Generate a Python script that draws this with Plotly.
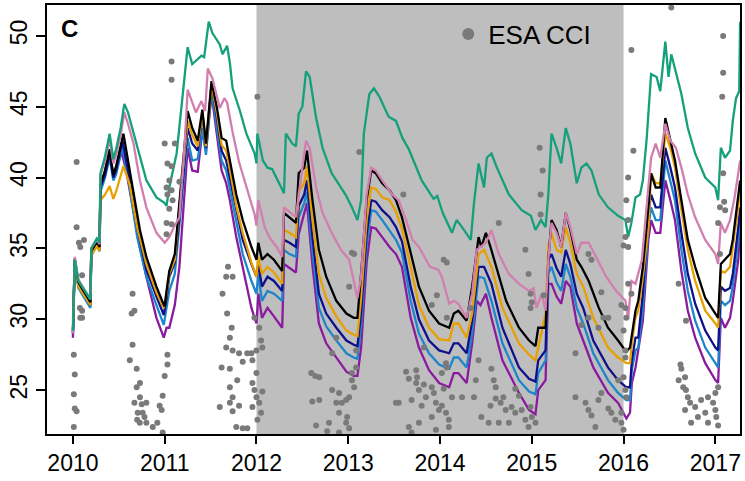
import plotly.graph_objects as go

# ---------------- data (decimal year, value) ----------------
green = [(2010.0, 29.2), (2010.02, 34.2), (2010.06, 32.7), (2010.19, 31.4), (2010.20, 35.0), (2010.26, 35.7),
         (2010.29, 35.4), (2010.30, 40.3), (2010.35, 41.5), (2010.40, 43.1), (2010.44, 41.3), (2010.47, 42.0),
         (2010.52, 43.5), (2010.56, 45.2), (2010.60, 44.6), (2010.66, 43.1), (2010.73, 41.4), (2010.80, 39.8),
         (2010.91, 38.6), (2011.0, 38.2), (2011.02, 38.0), (2011.05, 39.3), (2011.13, 41.7), (2011.20, 46.1),
         (2011.25, 49.2), (2011.30, 48.0), (2011.40, 48.6), (2011.43, 48.5), (2011.48, 51.0), (2011.52, 50.2),
         (2011.60, 49.4), (2011.63, 48.7), (2011.68, 49.3), (2011.71, 48.1), (2011.74, 46.3), (2011.82, 44.7),
         (2011.89, 43.1), (2011.98, 41.7), (2012.0, 41.0), (2012.01, 43.1), (2012.07, 41.2), (2012.12, 40.7),
         (2012.17, 40.6), (2012.30, 38.9), (2012.32, 43.1), (2012.39, 42.4), (2012.43, 42.2), (2012.46, 44.5),
         (2012.50, 45.0), (2012.54, 47.5), (2012.58, 47.1), (2012.65, 44.2), (2012.72, 42.1), (2012.82, 40.3),
         (2012.97, 38.8), (2013.04, 37.9), (2013.10, 37.0), (2013.14, 38.4), (2013.17, 43.1), (2013.23, 45.9),
         (2013.28, 46.3), (2013.34, 45.7), (2013.44, 44.3), (2013.52, 44.0), (2013.59, 42.8), (2013.66, 42.0),
         (2013.80, 39.8), (2013.93, 38.5), (2013.97, 38.7), (2014.03, 37.5), (2014.13, 36.1), (2014.18, 37.0),
         (2014.24, 36.5), (2014.335, 35.6), (2014.37, 38.2), (2014.42, 41.0), (2014.48, 39.3), (2014.51, 41.4),
         (2014.56, 41.7), (2014.62, 40.7), (2014.75, 38.8), (2014.89, 37.7), (2014.99, 37.3), (2015.04, 36.3),
         (2015.10, 37.0), (2015.15, 36.5), (2015.18, 38.8), (2015.215, 43.1), (2015.27, 42.1), (2015.32, 41.0),
         (2015.37, 43.5), (2015.42, 42.4), (2015.49, 39.6), (2015.54, 40.7), (2015.595, 41.0), (2015.65, 40.5),
         (2015.73, 38.8), (2015.83, 37.9), (2015.94, 37.3), (2016.02, 37.0), (2016.05, 35.8), (2016.085, 36.8),
         (2016.13, 38.6), (2016.18, 38.8), (2016.21, 39.8), (2016.25, 42.6), (2016.27, 44.5), (2016.30, 47.3),
         (2016.36, 47.1), (2016.40, 46.1), (2016.455, 49.6), (2016.49, 47.1), (2016.52, 48.7), (2016.57, 47.5),
         (2016.63, 45.9), (2016.70, 43.5), (2016.78, 41.7), (2016.89, 40.0), (2017.0, 39.3), (2017.03, 38.4),
         (2017.06, 42.1), (2017.105, 41.4), (2017.16, 41.9), (2017.19, 44.0), (2017.225, 45.6), (2017.26, 46.1),
         (2017.27, 51.0)]

pink = [(2010.0, 29.0), (2010.02, 34.4), (2010.06, 32.8), (2010.19, 31.4), (2010.20, 35.0), (2010.26, 35.6),
        (2010.29, 35.3), (2010.30, 40.2), (2010.35, 41.2), (2010.40, 42.7), (2010.44, 41.0), (2010.47, 41.6),
        (2010.52, 43.0), (2010.56, 44.6), (2010.60, 43.8), (2010.66, 42.4), (2010.73, 39.8), (2010.80, 37.9),
        (2010.91, 36.1), (2011.0, 35.4), (2011.05, 35.8), (2011.10, 36.5), (2011.16, 37.2), (2011.22, 42.6),
        (2011.25, 46.2), (2011.34, 44.6), (2011.40, 45.4), (2011.44, 44.7), (2011.47, 47.7), (2011.52, 47.0),
        (2011.60, 44.9), (2011.65, 45.6), (2011.68, 45.3), (2011.74, 43.2), (2011.81, 41.1), (2011.89, 39.3),
        (2011.98, 37.4), (2012.0, 36.6), (2012.02, 38.4), (2012.09, 36.5), (2012.14, 35.8), (2012.22, 35.1),
        (2012.28, 34.4), (2012.30, 37.9), (2012.36, 37.6), (2012.43, 37.2), (2012.46, 38.8), (2012.54, 42.6),
        (2012.58, 42.1), (2012.65, 39.3), (2012.72, 37.5), (2012.82, 36.1), (2012.92, 34.9), (2013.01, 34.2),
        (2013.06, 32.7), (2013.10, 31.5), (2013.14, 33.0), (2013.20, 38.8), (2013.25, 40.7), (2013.30, 40.5),
        (2013.37, 39.8), (2013.48, 38.8), (2013.55, 38.4), (2013.63, 37.0), (2013.70, 35.6), (2013.77, 35.1),
        (2013.89, 33.7), (2013.98, 33.5), (2014.02, 33.0), (2014.10, 31.1), (2014.15, 31.3), (2014.20, 31.1),
        (2014.29, 30.1), (2014.35, 31.8), (2014.40, 34.9), (2014.44, 35.1), (2014.50, 35.4), (2014.56, 36.3),
        (2014.64, 34.6), (2014.75, 33.2), (2014.86, 32.5), (2014.97, 32.0), (2015.02, 32.2), (2015.05, 30.8),
        (2015.11, 31.8), (2015.15, 30.6), (2015.18, 34.2), (2015.215, 36.8), (2015.27, 36.1), (2015.32, 35.1),
        (2015.37, 37.5), (2015.42, 36.5), (2015.49, 34.6), (2015.54, 35.4), (2015.62, 35.4), (2015.70, 34.4),
        (2015.81, 33.0), (2015.92, 32.0), (2016.02, 31.3), (2016.05, 30.0), (2016.085, 32.7), (2016.13, 32.5),
        (2016.20, 34.2), (2016.25, 37.9), (2016.30, 41.4), (2016.35, 42.4), (2016.40, 41.4), (2016.455, 43.8),
        (2016.51, 42.6), (2016.57, 42.1), (2016.63, 40.7), (2016.70, 38.8), (2016.78, 37.2), (2016.89, 35.6),
        (2017.0, 34.6), (2017.03, 33.9), (2017.06, 36.8), (2017.105, 36.1), (2017.16, 37.0), (2017.21, 38.6),
        (2017.27, 41.2)]

black = [(2010.0, 29.2), (2010.02, 34.3), (2010.06, 32.6), (2010.19, 31.2), (2010.20, 34.8), (2010.26, 35.5),
         (2010.29, 35.1), (2010.30, 39.5), (2010.35, 40.5), (2010.40, 42.0), (2010.44, 40.2), (2010.47, 40.8),
         (2010.55, 43.1), (2010.66, 39.1), (2010.73, 36.3), (2010.80, 34.4), (2010.91, 32.3), (2010.985, 31.1),
         (2011.0, 30.9), (2011.02, 32.0), (2011.05, 33.4), (2011.11, 34.6), (2011.16, 38.4), (2011.25, 44.7),
         (2011.30, 43.5), (2011.36, 42.6), (2011.41, 44.8), (2011.45, 42.4), (2011.51, 46.8), (2011.57, 44.9),
         (2011.62, 42.8), (2011.67, 42.6), (2011.71, 41.2), (2011.78, 38.8), (2011.85, 37.0), (2011.945, 35.1),
         (2012.0, 34.2), (2012.02, 35.4), (2012.06, 34.2), (2012.12, 34.6), (2012.19, 34.2), (2012.28, 33.4),
         (2012.30, 37.5), (2012.36, 37.2), (2012.43, 36.8), (2012.46, 40.3), (2012.52, 40.7), (2012.55, 41.9),
         (2012.61, 38.4), (2012.68, 34.9), (2012.76, 33.0), (2012.87, 31.3), (2012.98, 30.4), (2013.06, 30.1),
         (2013.10, 30.1), (2013.14, 33.2), (2013.20, 38.4), (2013.25, 40.5), (2013.30, 40.3), (2013.37, 39.6),
         (2013.45, 39.1), (2013.52, 38.4), (2013.585, 37.2), (2013.68, 34.7), (2013.77, 32.3), (2013.88, 30.6),
         (2013.99, 29.7), (2014.10, 29.4), (2014.15, 30.4), (2014.20, 30.6), (2014.29, 29.9), (2014.35, 32.3),
         (2014.42, 35.8), (2014.45, 35.1), (2014.50, 36.1), (2014.55, 35.1), (2014.61, 33.7), (2014.72, 31.3),
         (2014.86, 29.4), (2014.97, 28.5), (2015.04, 28.1), (2015.07, 29.4), (2015.15, 29.4), (2015.18, 34.2),
         (2015.215, 37.0), (2015.27, 36.3), (2015.32, 35.1), (2015.37, 37.5), (2015.42, 36.3), (2015.49, 34.2),
         (2015.54, 33.7), (2015.62, 32.7), (2015.73, 30.8), (2015.83, 29.4), (2015.94, 28.5), (2016.03, 27.7),
         (2016.07, 28.0), (2016.09, 29.0), (2016.13, 30.6), (2016.16, 31.3), (2016.21, 33.7), (2016.27, 37.9),
         (2016.30, 40.3), (2016.35, 39.3), (2016.40, 39.3), (2016.455, 44.2), (2016.51, 42.6), (2016.56, 41.2),
         (2016.63, 38.4), (2016.70, 35.6), (2016.78, 33.7), (2016.89, 31.5), (2017.0, 30.4), (2017.03, 30.1),
         (2017.06, 33.9), (2017.105, 34.2), (2017.16, 34.6), (2017.19, 35.6), (2017.25, 38.8), (2017.27, 39.8)]

orange = [(2010.0, 29.8), (2010.02, 34.0), (2010.06, 32.3), (2010.19, 31.0), (2010.20, 34.5), (2010.26, 35.2),
          (2010.29, 34.8), (2010.30, 38.4), (2010.35, 38.8), (2010.40, 39.4), (2010.44, 38.5), (2010.47, 39.0),
          (2010.55, 40.8), (2010.62, 39.5), (2010.70, 36.5), (2010.80, 33.9), (2010.91, 31.9), (2010.99, 30.8),
          (2011.02, 31.8), (2011.05, 33.2), (2011.11, 34.2), (2011.16, 38.0), (2011.25, 44.0), (2011.30, 43.0),
          (2011.36, 42.2), (2011.41, 44.6), (2011.45, 42.2), (2011.51, 46.6), (2011.57, 44.5), (2011.62, 42.3),
          (2011.67, 41.9), (2011.71, 40.6), (2011.78, 38.0), (2011.85, 36.1), (2011.945, 34.0), (2012.0, 33.0),
          (2012.02, 34.4), (2012.06, 33.2), (2012.12, 33.7), (2012.19, 33.3), (2012.28, 32.5), (2012.30, 36.3),
          (2012.36, 36.1), (2012.43, 35.8), (2012.46, 39.0), (2012.52, 39.6), (2012.55, 40.8), (2012.61, 37.0),
          (2012.68, 33.2), (2012.76, 31.5), (2012.87, 30.2), (2012.98, 29.2), (2013.06, 28.9), (2013.10, 28.8),
          (2013.14, 31.5), (2013.20, 37.0), (2013.25, 39.3), (2013.30, 39.2), (2013.37, 38.6), (2013.45, 38.4),
          (2013.52, 37.6), (2013.585, 36.4), (2013.68, 33.7), (2013.77, 31.0), (2013.88, 29.4), (2013.99, 28.6),
          (2014.10, 28.5), (2014.15, 29.7), (2014.20, 29.7), (2014.29, 28.7), (2014.35, 30.4), (2014.42, 34.6),
          (2014.48, 34.9), (2014.56, 33.7), (2014.68, 30.8), (2014.86, 28.3), (2014.97, 27.5), (2015.04, 27.1),
          (2015.07, 28.0), (2015.15, 30.4), (2015.18, 35.1), (2015.215, 36.1), (2015.27, 34.9), (2015.32, 34.7),
          (2015.37, 36.5), (2015.42, 35.4), (2015.49, 33.2), (2015.56, 32.3), (2015.67, 30.1), (2015.83, 28.0),
          (2015.94, 27.3), (2016.03, 26.9), (2016.07, 26.9), (2016.09, 28.3), (2016.13, 30.1), (2016.16, 30.6),
          (2016.21, 33.0), (2016.27, 36.5), (2016.30, 40.3), (2016.35, 39.6), (2016.40, 39.6), (2016.455, 43.1),
          (2016.51, 42.1), (2016.56, 40.7), (2016.63, 37.7), (2016.70, 34.9), (2016.78, 32.7), (2016.89, 30.6),
          (2017.0, 29.7), (2017.03, 29.4), (2017.06, 33.4), (2017.105, 33.3), (2017.16, 33.7), (2017.19, 35.1),
          (2017.25, 37.9), (2017.27, 39.3)]

navy = [(2010.0, 29.0), (2010.02, 34.2), (2010.06, 32.5), (2010.19, 31.0), (2010.20, 34.7), (2010.26, 35.4),
        (2010.29, 35.0), (2010.30, 39.3), (2010.35, 40.2), (2010.40, 41.7), (2010.44, 40.0), (2010.47, 40.5),
        (2010.54, 42.6), (2010.62, 39.8), (2010.70, 36.5), (2010.80, 33.5), (2010.91, 31.6), (2010.99, 30.3),
        (2011.02, 31.5), (2011.05, 33.0), (2011.11, 34.0), (2011.16, 37.2), (2011.25, 43.5), (2011.30, 42.4),
        (2011.36, 41.9), (2011.41, 44.5), (2011.45, 42.1), (2011.51, 46.6), (2011.57, 44.2), (2011.62, 41.9),
        (2011.67, 41.2), (2011.71, 40.0), (2011.78, 37.7), (2011.85, 35.6), (2011.945, 33.9), (2012.0, 33.0),
        (2012.02, 33.9), (2012.06, 32.3), (2012.12, 33.0), (2012.19, 32.7), (2012.28, 32.0), (2012.30, 35.6),
        (2012.36, 35.4), (2012.43, 35.1), (2012.46, 38.0), (2012.52, 38.8), (2012.55, 39.8), (2012.61, 35.8),
        (2012.68, 31.8), (2012.76, 30.4), (2012.87, 29.4), (2012.98, 28.5), (2013.06, 28.2), (2013.10, 28.1),
        (2013.14, 30.5), (2013.20, 36.0), (2013.25, 38.4), (2013.30, 38.3), (2013.37, 37.7), (2013.45, 37.2),
        (2013.52, 36.5), (2013.585, 35.5), (2013.68, 32.3), (2013.77, 30.0), (2013.88, 28.5), (2013.99, 27.8),
        (2014.10, 27.6), (2014.15, 28.3), (2014.20, 28.3), (2014.29, 27.6), (2014.35, 29.9), (2014.42, 33.7),
        (2014.48, 33.7), (2014.56, 32.5), (2014.68, 29.4), (2014.86, 26.6), (2014.97, 25.8), (2015.04, 25.6),
        (2015.07, 27.1), (2015.15, 27.8), (2015.18, 34.2), (2015.215, 34.6), (2015.27, 33.6), (2015.32, 33.0),
        (2015.37, 34.9), (2015.42, 33.9), (2015.49, 31.8), (2015.56, 30.8), (2015.67, 28.5), (2015.83, 26.6),
        (2015.94, 25.7), (2016.03, 25.2), (2016.07, 25.2), (2016.09, 27.1), (2016.13, 28.7), (2016.16, 28.7),
        (2016.21, 31.8), (2016.27, 37.5), (2016.30, 38.8), (2016.35, 37.9), (2016.40, 37.9), (2016.455, 42.1),
        (2016.51, 40.7), (2016.56, 39.3), (2016.63, 36.1), (2016.70, 33.2), (2016.78, 31.1), (2016.89, 29.2),
        (2017.0, 28.0), (2017.03, 27.8), (2017.06, 32.3), (2017.105, 32.0), (2017.16, 32.2), (2017.19, 33.2),
        (2017.25, 36.5), (2017.27, 37.9)]

blue = [(2010.0, 29.0), (2010.02, 34.0), (2010.06, 32.2), (2010.19, 30.8), (2010.20, 34.5), (2010.26, 35.2),
        (2010.29, 34.8), (2010.30, 39.0), (2010.35, 40.0), (2010.40, 41.4), (2010.44, 39.8), (2010.47, 40.2),
        (2010.54, 42.2), (2010.62, 39.2), (2010.70, 35.8), (2010.80, 33.0), (2010.91, 31.0), (2010.99, 29.6),
        (2011.02, 30.8), (2011.05, 32.0), (2011.11, 33.2), (2011.16, 36.5), (2011.25, 42.8), (2011.30, 41.2),
        (2011.36, 41.3), (2011.41, 43.5), (2011.45, 41.6), (2011.51, 46.2), (2011.57, 43.6), (2011.62, 41.2),
        (2011.67, 40.5), (2011.71, 39.2), (2011.78, 36.8), (2011.85, 34.6), (2011.945, 32.7), (2012.0, 31.8),
        (2012.02, 33.2), (2012.06, 31.3), (2012.12, 32.0), (2012.19, 31.8), (2012.28, 31.3), (2012.30, 34.9),
        (2012.36, 34.6), (2012.43, 34.4), (2012.46, 37.2), (2012.52, 38.2), (2012.55, 39.0), (2012.61, 34.8),
        (2012.68, 30.8), (2012.76, 29.5), (2012.87, 28.5), (2012.98, 27.6), (2013.06, 27.3), (2013.10, 27.2),
        (2013.14, 29.6), (2013.20, 35.2), (2013.25, 37.7), (2013.30, 37.6), (2013.37, 37.0), (2013.45, 36.3),
        (2013.52, 35.6), (2013.585, 34.7), (2013.68, 31.3), (2013.77, 29.0), (2013.88, 27.6), (2013.99, 26.8),
        (2014.10, 26.5), (2014.15, 27.3), (2014.20, 27.3), (2014.29, 26.6), (2014.35, 29.0), (2014.42, 33.0),
        (2014.48, 32.9), (2014.56, 31.3), (2014.68, 28.3), (2014.86, 25.7), (2014.97, 24.9), (2015.04, 24.7),
        (2015.07, 26.2), (2015.15, 27.1), (2015.18, 33.2), (2015.215, 33.7), (2015.27, 32.6), (2015.32, 32.0),
        (2015.37, 33.9), (2015.42, 33.0), (2015.49, 30.8), (2015.56, 29.7), (2015.67, 27.6), (2015.83, 25.7),
        (2015.94, 24.8), (2016.03, 24.3), (2016.07, 24.3), (2016.09, 26.4), (2016.13, 27.8), (2016.16, 28.0),
        (2016.21, 30.8), (2016.27, 36.5), (2016.30, 37.9), (2016.35, 37.0), (2016.40, 37.0), (2016.455, 41.2),
        (2016.51, 39.8), (2016.56, 38.4), (2016.63, 34.9), (2016.70, 32.0), (2016.78, 29.9), (2016.89, 28.0),
        (2017.0, 26.9), (2017.03, 26.6), (2017.06, 31.3), (2017.105, 31.0), (2017.16, 31.3), (2017.19, 32.3),
        (2017.25, 35.6), (2017.27, 37.2)]

purple = [(2010.0, 28.7), (2010.02, 34.0), (2010.06, 32.3), (2010.19, 31.0), (2010.20, 34.6), (2010.26, 35.3),
          (2010.29, 34.9), (2010.30, 39.5), (2010.35, 40.5), (2010.40, 42.0), (2010.44, 40.0), (2010.47, 40.6),
          (2010.53, 41.8), (2010.58, 40.5), (2010.66, 37.7), (2010.73, 35.1), (2010.80, 33.0), (2010.91, 30.1),
          (2010.99, 28.7), (2011.02, 29.4), (2011.05, 29.4), (2011.11, 31.0), (2011.16, 33.7), (2011.25, 42.1),
          (2011.30, 40.5), (2011.36, 40.4), (2011.41, 43.3), (2011.45, 41.9), (2011.51, 45.9), (2011.57, 43.1),
          (2011.62, 40.5), (2011.67, 39.6), (2011.71, 38.4), (2011.78, 35.8), (2011.85, 33.7), (2011.945, 30.8),
          (2012.0, 29.7), (2012.02, 31.8), (2012.06, 30.1), (2012.12, 30.8), (2012.19, 30.2), (2012.28, 29.4),
          (2012.30, 33.9), (2012.36, 33.6), (2012.43, 33.3), (2012.46, 36.0), (2012.52, 37.5), (2012.55, 38.2),
          (2012.61, 33.8), (2012.68, 29.7), (2012.76, 28.3), (2012.87, 27.3), (2012.98, 26.3), (2013.06, 26.0),
          (2013.10, 26.0), (2013.14, 28.0), (2013.20, 34.0), (2013.25, 36.5), (2013.30, 36.4), (2013.37, 35.8),
          (2013.45, 35.1), (2013.52, 34.6), (2013.585, 33.7), (2013.68, 30.1), (2013.77, 28.0), (2013.88, 26.4),
          (2013.99, 25.5), (2014.10, 25.2), (2014.15, 26.2), (2014.20, 26.2), (2014.29, 25.5), (2014.35, 28.3),
          (2014.40, 31.3), (2014.44, 31.0), (2014.50, 31.8), (2014.56, 30.1), (2014.68, 27.1), (2014.86, 24.8),
          (2014.97, 23.6), (2015.04, 23.3), (2015.07, 25.0), (2015.15, 25.7), (2015.18, 32.5), (2015.215, 32.5),
          (2015.27, 31.6), (2015.32, 31.1), (2015.37, 32.7), (2015.42, 32.3), (2015.49, 29.7), (2015.56, 28.5),
          (2015.67, 26.6), (2015.83, 24.8), (2015.94, 24.1), (2016.03, 23.0), (2016.07, 23.4), (2016.09, 25.5),
          (2016.13, 26.6), (2016.21, 29.9), (2016.27, 35.6), (2016.30, 37.0), (2016.35, 36.1), (2016.40, 36.1),
          (2016.455, 39.8), (2016.51, 38.4), (2016.56, 37.0), (2016.63, 33.4), (2016.70, 30.6), (2016.78, 28.7),
          (2016.89, 26.9), (2017.0, 25.7), (2017.03, 25.5), (2017.06, 30.1), (2017.105, 29.4), (2017.16, 30.1),
          (2017.19, 31.3), (2017.25, 34.2), (2017.27, 36.5)]

esa_cci = [
    # 2010
    (2010.04, 41.1), (2010.04, 36.5), (2010.065, 35.4), (2010.12, 35.6), (2010.10, 33.1), (2010.076, 30.8),
    (2010.08, 30.1), (2010.10, 30.6), (2010.01, 27.5), (2010.02, 26.1), (2010.01, 24.7), (2010.02, 23.7),
    (2010.04, 23.5), (2010.01, 22.4), (2010.08, 35.1), (2010.10, 30.1),
    # late 2010
    (2010.65, 31.8), (2010.64, 30.4), (2010.67, 30.6), (2010.65, 28.2), (2010.62, 27.1), (2010.695, 26.5),
    (2010.73, 25.5), (2010.695, 25.2), (2010.73, 24.5), (2010.67, 24.1), (2010.80, 24.1), (2010.706, 23.4),
    (2010.76, 23.4), (2010.80, 22.7), (2010.728, 22.7), (2010.87, 22.4), (2010.945, 23.9), (2010.967, 23.6),
    (2010.92, 22.7), (2010.978, 24.6), (2011.0, 26.0), (2011.03, 26.8), (2011.03, 27.5), (2010.978, 22.0),
    (2010.70, 22.9), (2010.75, 24.0), (2010.78, 23.1),
    # early 2011
    (2011.0, 42.4), (2011.03, 41.0), (2011.02, 39.3), (2011.03, 38.8), (2011.02, 36.8), (2011.075, 48.2),
    (2011.075, 46.9), (2011.11, 42.4), (2011.075, 40.8), (2011.05, 39.8), (2011.16, 39.7), (2011.075, 39.1),
    (2011.086, 38.4), (2011.05, 37.8), (2011.075, 36.7), (2011.02, 36.0),
    # late 2011 / early 2012
    (2011.67, 33.0), (2011.63, 31.8), (2011.68, 30.4), (2011.73, 29.4), (2011.71, 28.7), (2011.67, 28.0),
    (2011.74, 27.8), (2011.62, 26.6), (2011.71, 26.5), (2011.81, 27.6), (2011.85, 27.0), (2011.79, 25.7),
    (2011.71, 25.2), (2011.74, 24.5), (2011.71, 24.1), (2011.60, 23.8), (2011.74, 23.5), (2011.81, 23.9),
    (2011.78, 22.4), (2011.85, 22.3), (2011.90, 22.3), (2011.956, 23.8), (2012.0, 24.5), (2011.978, 25.0),
    (2011.956, 25.5), (2012.0, 26.2), (2011.956, 27.1), (2011.978, 30.1), (2012.03, 29.4), (2012.05, 28.5),
    (2012.064, 28.0), (2012.03, 24.1), (2012.05, 23.4), (2012.01, 22.9), (2012.064, 24.9), (2012.01, 45.7),
    (2011.69, 33.7), (2011.74, 33.0), (2011.90, 27.6), (2011.945, 27.6), (2012.0, 27.8),
    # late 2012 / early 2013
    (2012.597, 26.2), (2012.684, 25.9), (2012.608, 24.2), (2012.684, 24.3), (2012.65, 22.5), (2012.79, 22.7),
    (2012.77, 22.1), (2012.825, 27.6), (2012.87, 28.7), (2012.90, 24.8), (2012.87, 24.1), (2012.93, 24.1),
    (2012.977, 24.3), (2013.01, 24.5), (2012.90, 23.4), (2012.988, 23.1), (2012.977, 22.7), (2013.04, 25.7),
    (2013.064, 25.2), (2013.04, 26.2), (2013.086, 26.6), (2013.064, 34.6), (2013.04, 34.7), (2013.01, 32.3),
    (2013.12, 41.8), (2012.90, 22.0), (2013.01, 22.3), (2013.086, 27.8), (2012.825, 25.0), (2012.64, 26.0),
    # late 2013 / early 2014
    (2013.63, 26.3), (2013.66, 25.8), (2013.74, 25.5), (2013.55, 24.1), (2013.69, 24.3), (2013.77, 25.0),
    (2013.846, 24.5), (2013.91, 25.2), (2013.80, 23.9), (2013.955, 24.1), (2013.988, 23.6), (2014.02, 23.9),
    (2014.065, 23.4), (2014.096, 22.9), (2013.91, 23.1), (2013.77, 22.7), (2013.66, 22.4), (2013.69, 22.0),
    (2013.955, 22.2), (2014.096, 22.4), (2013.74, 26.4), (2013.75, 25.9), (2013.824, 28.0), (2013.824, 25.4),
    (2013.933, 24.8), (2014.02, 26.2), (2014.065, 26.9), (2014.074, 26.6), (2014.04, 25.1), (2014.13, 24.5),
    (2014.24, 24.5), (2014.37, 24.5), (2014.39, 25.7), (2013.52, 24.1), (2013.6, 38.8), (2013.91, 31.0),
    (2014.04, 34.2), (2014.074, 34.0), (2013.966, 31.7), (2014.074, 30.1), (2014.335, 30.8),
    # late 2014 / early 2015
    (2014.42, 27.1), (2014.585, 25.7), (2014.607, 25.2), (2014.55, 23.9), (2014.66, 24.1), (2014.715, 23.6),
    (2014.78, 23.8), (2014.82, 23.4), (2014.89, 23.6), (2014.93, 22.9), (2014.987, 23.8), (2015.0, 23.1),
    (2015.04, 22.7), (2014.965, 22.4), (2014.75, 22.7), (2014.64, 22.7), (2014.53, 22.7), (2014.45, 23.1),
    (2014.56, 26.5), (2014.607, 24.4), (2014.86, 24.6), (2014.82, 25.1), (2014.69, 24.5), (2014.93, 34.9),
    (2014.965, 33.2), (2014.987, 31.8), (2015.0, 31.2), (2014.64, 36.8), (2014.987, 30.8), (2015.085, 42.1),
    (2015.118, 40.5), (2015.096, 38.8), (2015.096, 37.4), (2015.13, 31.7),
    # late 2015 / early 2016
    (2015.476, 27.6), (2015.476, 24.5), (2015.585, 24.1), (2015.617, 23.6), (2015.65, 23.2), (2015.726, 24.3),
    (2015.758, 24.8), (2015.693, 22.4), (2015.834, 23.7), (2015.867, 23.4), (2015.91, 22.9), (2015.976, 22.7),
    (2016.0, 22.2), (2015.943, 25.7), (2016.02, 25.0), (2016.03, 24.5), (2016.02, 27.3), (2016.0, 29.2),
    (2016.05, 32.5), (2016.085, 31.8), (2016.02, 30.8), (2016.03, 30.1), (2015.54, 29.6), (2015.617, 30.1),
    (2015.726, 29.4), (2015.834, 30.1), (2015.758, 31.9), (2015.617, 34.6), (2015.65, 34.2), (2015.78, 30.1),
    (2016.05, 40.0), (2016.107, 41.9), (2016.03, 38.4), (2016.02, 35.8), (2016.05, 35.1), (2016.085, 49.0),
    (2016.05, 37.0), (2016.0, 35.2), (2015.976, 31.0), (2016.02, 27.8), (2016.0, 25.9), (2015.976, 23.4),
    # late 2016 / early 2017
    (2016.52, 52.0), (2016.60, 32.5), (2016.68, 29.9), (2016.62, 26.8), (2016.63, 26.5), (2016.60, 25.7),
    (2016.67, 25.9), (2016.65, 25.2), (2016.68, 25.0), (2016.70, 24.5), (2016.725, 24.1), (2016.67, 23.6),
    (2016.78, 23.8), (2016.845, 24.3), (2016.92, 24.5), (2016.975, 24.1), (2017.0, 23.6), (2017.01, 23.1),
    (2016.89, 23.4), (2016.81, 23.1), (2016.736, 22.7), (2016.92, 22.7), (2017.03, 22.5), (2017.0, 24.8),
    (2017.03, 25.2), (2017.085, 50.0), (2017.085, 47.4), (2017.075, 45.7), (2017.085, 40.3), (2017.096, 38.3),
    (2017.05, 37.9), (2017.107, 37.7), (2017.03, 36.8), (2017.05, 34.6),
]

shade_period = (2012.0, 2016.0)
year_ticks = [2010, 2011, 2012, 2013, 2014, 2015, 2016, 2017]
value_ticks = [25, 30, 35, 40, 45, 50]

series = [
    ("purple", purple, "#8A1A9E"),
    ("blue", blue, "#1C86CC"),
    ("navy", navy, "#10108A"),
    ("orange", orange, "#E8A000"),
    ("black", black, "#000000"),
    ("pink", pink, "#D27FB0"),
    ("green", green, "#14A07A"),
]

FONT = "Liberation Sans, Arial, Helvetica, sans-serif"

fig = go.Figure()
for name, data, color in series:
    fig.add_trace(go.Scatter(
        x=[p[0] for p in data], y=[p[1] for p in data], mode="lines", name=name,
        line=dict(color=color, width=2.3), showlegend=False, hoverinfo="skip"))

fig.add_trace(go.Scatter(
    x=[p[0] for p in esa_cci], y=[p[1] for p in esa_cci], mode="markers", name="ESA CCI",
    marker=dict(color="#7A7A7A", size=6, line=dict(width=0)), showlegend=True, cliponaxis=True))

fig.add_shape(type="rect", xref="x", yref="paper", x0=shade_period[0], x1=shade_period[1],
              y0=0, y1=1, fillcolor="#BEBEBE", line=dict(width=0), layer="below")

fig.add_annotation(text="<b>C</b>", xref="paper", yref="paper", x=0.018, y=0.945,
                   xanchor="left", yanchor="middle", showarrow=False,
                   font=dict(family=FONT, size=24, color="black"))

fig.update_layout(
    width=745, height=481,
    margin=dict(l=47, r=3, t=4, b=47),
    paper_bgcolor="white", plot_bgcolor="white",
    font=dict(family=FONT, size=23, color="black"),
    legend=dict(x=0.579, y=0.987, xanchor="left", yanchor="top", bgcolor="rgba(0,0,0,0)",
                font=dict(family=FONT, size=26, color="black"), itemsizing="constant",
                borderwidth=0),
    xaxis=dict(range=[2009.7175, 2017.2686], tickmode="array", tickvals=year_ticks,
               ticktext=[str(t) for t in year_ticks], ticks="outside", ticklen=8, tickwidth=1.5,
               tickcolor="black", showgrid=False, zeroline=False, showline=True, linecolor="black",
               linewidth=1.5, mirror=True, tickfont=dict(size=23)),
    yaxis=dict(range=[21.9, 52.18], tickmode="array", tickvals=value_ticks,
               ticktext=[str(t) for t in value_ticks], ticks="outside", ticklen=9, tickwidth=1.5,
               tickcolor="black", tickangle=-90, showgrid=False, zeroline=False, showline=True,
               linecolor="black", linewidth=1.5, mirror=True, tickfont=dict(size=23)),
)

fig.write_html("out.html")
